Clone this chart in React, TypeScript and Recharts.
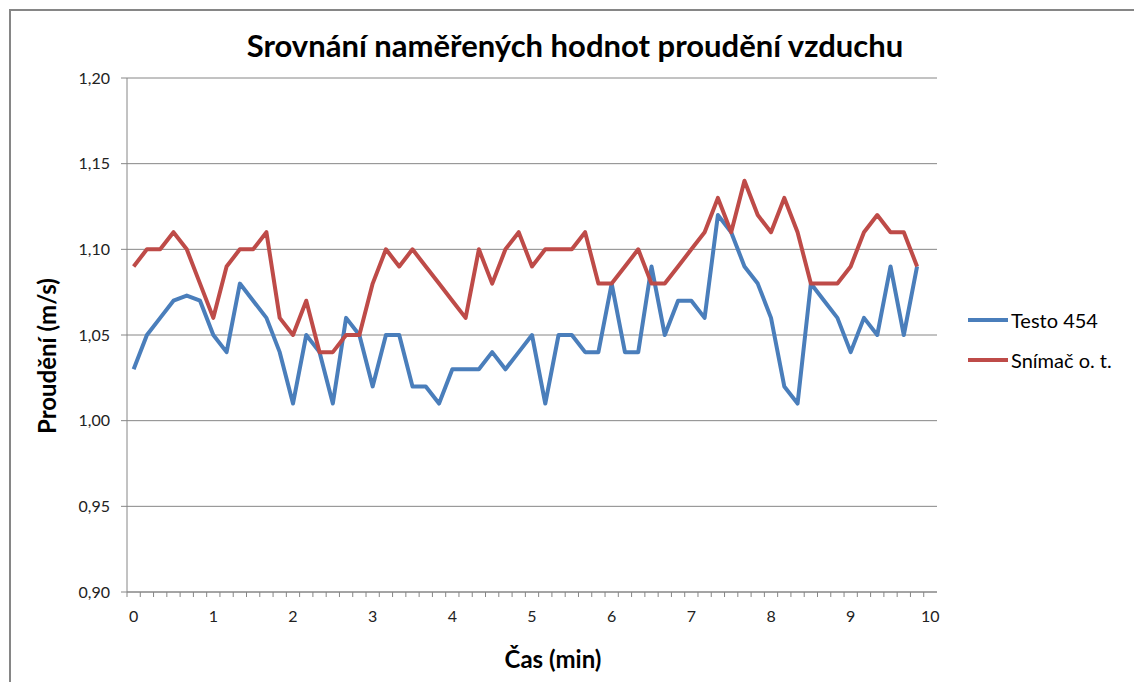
import { LineChart, Line, XAxis, YAxis, CartesianGrid, Legend } from "recharts";

// time of each sample, seconds (one reading every 10 s)
const SECONDS = [
  0, 10, 20, 30, 40, 50, 60, 70, 80, 90, 100, 110, 120, 130, 140, 150, 160, 170, 180, 190,
  200, 210, 220, 230, 240, 250, 260, 270, 280, 290, 300, 310, 320, 330, 340, 350, 360, 370, 380, 390,
  400, 410, 420, 430, 440, 450, 460, 470, 480, 490, 500, 510, 520, 530, 540, 550, 560, 570, 580, 590,
];

const TESTO_454 = [
  1.03, 1.05, 1.06, 1.07, 1.073, 1.07, 1.05, 1.04, 1.08, 1.07, 1.06, 1.04, 1.01, 1.05, 1.04, 1.01, 1.06, 1.05, 1.02, 1.05,
  1.05, 1.02, 1.02, 1.01, 1.03, 1.03, 1.03, 1.04, 1.03, 1.04, 1.05, 1.01, 1.05, 1.05, 1.04, 1.04, 1.08, 1.04, 1.04, 1.09,
  1.05, 1.07, 1.07, 1.06, 1.12, 1.11, 1.09, 1.08, 1.06, 1.02, 1.01, 1.08, 1.07, 1.06, 1.04, 1.06, 1.05, 1.09, 1.05, 1.09,
];

const SNIMAC = [
  1.09, 1.1, 1.1, 1.11, 1.1, 1.08, 1.06, 1.09, 1.1, 1.1, 1.11, 1.06, 1.05, 1.07, 1.04, 1.04, 1.05, 1.05, 1.08, 1.1,
  1.09, 1.1, 1.09, 1.08, 1.07, 1.06, 1.1, 1.08, 1.1, 1.11, 1.09, 1.1, 1.1, 1.1, 1.11, 1.08, 1.08, 1.09, 1.1, 1.08,
  1.08, 1.09, 1.1, 1.11, 1.13, 1.11, 1.14, 1.12, 1.11, 1.13, 1.11, 1.08, 1.08, 1.08, 1.09, 1.11, 1.12, 1.11, 1.11, 1.09,
];

const X_LABELS = [0, 60, 120, 180, 240, 300, 360, 420, 480, 540, 600];
const Y_TICKS = [0.9, 0.95, 1.0, 1.05, 1.1, 1.15, 1.2];
const SERIES_ORDER = ["Testo 454", "Snímač o. t."];

const FONT = 'Lato, "Open Sans", sans-serif';
const GRID = "#868686";
const BLUE = "#4a7ebb";
const RED = "#be4b48";

const data = SECONDS.map((s, i) => ({ s, testo: TESTO_454[i], snimac: SNIMAC[i] }));
// category boundaries (tick marks sit between samples, Excel style)
const minorTicks = [...SECONDS, 600].map((s) => s - 5);
const allTicks = [...minorTicks, ...X_LABELS].sort((a, b) => a - b);

const TICK_SIZE = 8;
const TICK_MARGIN = 11;

function XTick(props: any) {
  const { x, y, payload } = props;
  const v = payload.value as number;
  const axisY = y - TICK_SIZE - TICK_MARGIN;
  if (minorTicks.includes(v)) {
    return <line x1={x} x2={x} y1={axisY} y2={axisY + 5} stroke={GRID} />;
  }
  return (
    <text x={x} y={y} dy="0.71em" textAnchor="middle"
      style={{ fontSize: 16, fill: "#222", fontFamily: FONT }}>
      {String(v / 60)}
    </text>
  );
}

function LegendBox({ payload }: { payload?: { value: string; color: string }[] }) {
  const items = [...(payload || [])].sort(
    (a, b) => SERIES_ORDER.indexOf(a.value) - SERIES_ORDER.indexOf(b.value)
  );
  return (
    <div style={{ fontFamily: FONT }}>
      {items.map((e) => (
        <div key={e.value} style={{ display: "flex", alignItems: "center", height: 40 }}>
          <svg width={40} height={4}>
            <line x1={0} x2={40} y1={2} y2={2} stroke={e.color} strokeWidth={4} />
          </svg>
          <span style={{ marginLeft: 3, fontSize: 20, color: "#000" }}>{e.value}</span>
        </div>
      ))}
    </div>
  );
}

export default function App() {
  return (
    <div style={{ position: "absolute", left: 0, top: 0, width: 1134, height: 682, overflow: "hidden", background: "#fff" }}>
      <div
        style={{
          position: "absolute", left: 9, top: 9, width: 1300, height: 900,
          border: `2px solid ${GRID}`, boxSizing: "border-box",
        }}
      />
      <div
        style={{
          position: "absolute", left: 0, top: 26, width: 1150, textAlign: "center",
          fontFamily: FONT, fontWeight: 700, fontSize: 31, lineHeight: "38px", color: "#000",
        }}
      >
        Srovnání naměřených hodnot proudění vzduchu
      </div>
      <div style={{ position: "absolute", left: 0, top: 0 }}>
        <LineChart width={1134} height={682} data={data} margin={{ top: 78, right: 197, bottom: 0, left: 67 }}>
          <CartesianGrid vertical={false} stroke={GRID} />
          <XAxis
            type="number"
            dataKey="s"
            domain={[-5, 605]}
            ticks={allTicks}
            interval={0}
            tick={<XTick />}
            tickLine={false}
            tickSize={TICK_SIZE}
            tickMargin={TICK_MARGIN}
            axisLine={{ stroke: GRID }}
            height={90}
            label={{
              value: "Čas (min)",
              content: () => (
                <text x={553} y={658} textAnchor="middle" dominantBaseline="central"
                  style={{ fontFamily: FONT, fontWeight: 700, fontSize: 24, fill: "#000" }}>
                  Čas (min)
                </text>
              ),
            }}
          />
          <YAxis
            type="number"
            domain={[0.9, 1.2]}
            ticks={Y_TICKS}
            width={60}
            tickSize={6}
            tickMargin={11}
            tickLine={{ stroke: GRID }}
            axisLine={{ stroke: GRID }}
            tickFormatter={(v: number) => v.toFixed(2).replace(".", ",")}
            tick={{ fontSize: 16, fill: "#222", fontFamily: FONT }}
            label={{
              value: "Proudění (m/s)",
              content: () => (
                <text x={46} y={356} transform="rotate(-90 46 356)" textAnchor="middle" dominantBaseline="central"
                  style={{ fontFamily: FONT, fontWeight: 700, fontSize: 24, fill: "#000" }}>
                  Proudění (m/s)
                </text>
              ),
            }}
          />
          <Legend
            layout="vertical"
            align="center"
            verticalAlign="middle"
            content={<LegendBox />}
            wrapperStyle={{ left: 968, top: 300, width: 166 }}
          />
          <Line
            type="linear"
            dataKey="testo"
            name="Testo 454"
            stroke={BLUE}
            strokeWidth={4}
            strokeLinejoin="round"
            dot={false}
            isAnimationActive={false}
          />
          <Line
            type="linear"
            dataKey="snimac"
            name="Snímač o. t."
            stroke={RED}
            strokeWidth={4}
            strokeLinejoin="round"
            dot={false}
            isAnimationActive={false}
          />
        </LineChart>
      </div>
    </div>
  );
}
